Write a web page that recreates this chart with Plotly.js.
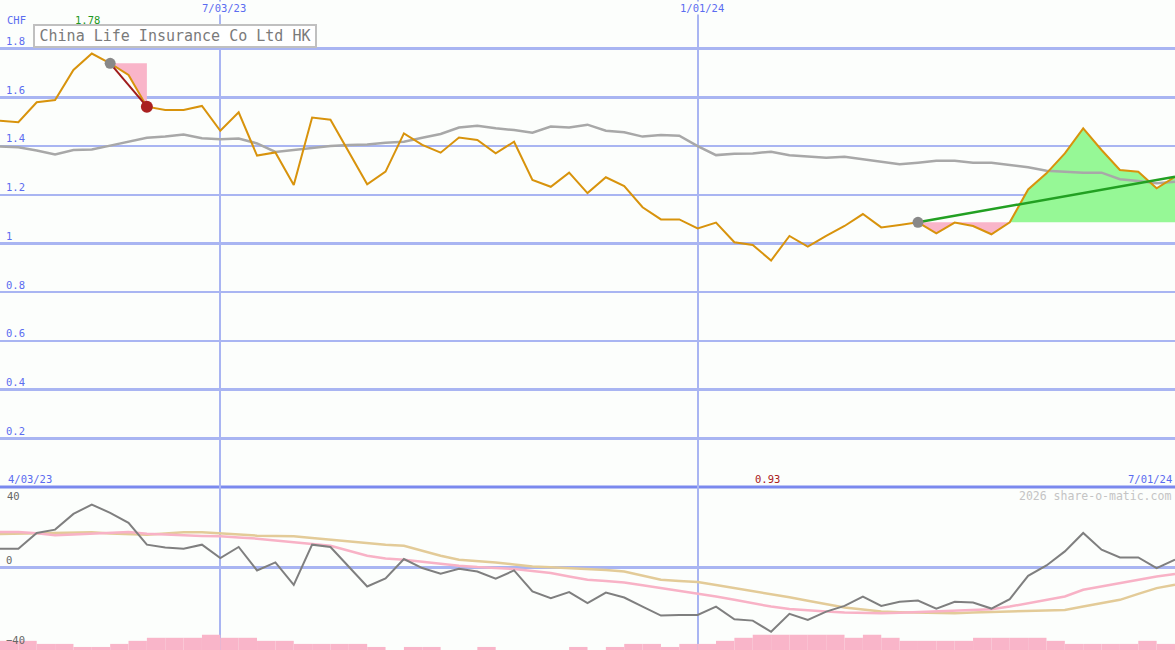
<!DOCTYPE html>
<html>
<head>
<meta charset="utf-8">
<script src="https://cdn.plot.ly/plotly-3.0.1.min.js"></script>
<style>html,body{margin:0;padding:0;background:#fcfefc;}#chart{width:1175px;height:650px;}</style>
</head>
<body>
<div id="chart"></div>
<script>
// ---------------- data ----------------
const chartTitle = 'China Life Insurance Co Ltd HK';
const currency = 'CHF';
const watermark = '2026 share-o-matic.com';
const startLabel = '4/03/23';
const endLabel = '7/01/24';
const gridDates = ['2023-07-03', '2024-01-01'];
const gridLabels = ['7/03/23', '1/01/24'];
const priceTicks = [0.2, 0.4, 0.6, 0.8, 1, 1.2, 1.4, 1.6, 1.8, 2];
const priceTickText = ['0.2', '0.4', '0.6', '0.8', '1', '1.2', '1.4', '1.6', '1.8', ''];
const oscTicks = [0, -40];
const oscTopLabel = 40;

const dates = [
  '2023-04-10','2023-04-17','2023-04-24','2023-05-01','2023-05-08','2023-05-15','2023-05-22','2023-05-29',
  '2023-06-05','2023-06-12','2023-06-19','2023-06-26','2023-07-03','2023-07-10','2023-07-17','2023-07-24',
  '2023-07-31','2023-08-07','2023-08-14','2023-08-21','2023-08-28','2023-09-04','2023-09-11','2023-09-18',
  '2023-09-25','2023-10-02','2023-10-09','2023-10-16','2023-10-23','2023-10-30','2023-11-06','2023-11-13',
  '2023-11-20','2023-11-27','2023-12-04','2023-12-11','2023-12-18','2023-12-25','2024-01-01','2024-01-08',
  '2024-01-15','2024-01-22','2024-01-29','2024-02-05','2024-02-12','2024-02-19','2024-02-26','2024-03-04',
  '2024-03-11','2024-03-18','2024-03-25','2024-04-01','2024-04-08','2024-04-15','2024-04-22','2024-04-29',
  '2024-05-06','2024-05-13','2024-05-20','2024-05-27','2024-06-03','2024-06-10','2024-06-17','2024-06-24',
  '2024-07-01'
];
const price = [
  1.504,1.498,1.580,1.589,1.713,1.780,1.740,1.692,
  1.562,1.548,1.548,1.565,1.463,1.539,1.361,1.374,
  1.240,1.517,1.508,1.376,1.243,1.295,1.452,1.405,
  1.373,1.435,1.425,1.370,1.418,1.261,1.233,1.291,
  1.207,1.272,1.236,1.149,1.099,1.099,1.062,1.086,
  1.005,0.994,0.930,1.031,0.987,1.031,1.072,1.121,
  1.066,1.076,1.087,1.042,1.086,1.072,1.038,1.087,
  1.222,1.288,1.370,1.473,1.384,1.302,1.295,1.227,
  1.274
];
const movingAvg = [
  1.398,1.395,1.382,1.366,1.384,1.386,1.402,1.419,
  1.434,1.439,1.448,1.432,1.428,1.431,1.411,1.376,
  1.384,1.393,1.400,1.405,1.407,1.414,1.418,1.434,
  1.450,1.476,1.484,1.473,1.466,1.455,1.480,1.476,
  1.488,1.463,1.457,1.439,1.446,1.443,1.400,1.363,
  1.369,1.370,1.377,1.362,1.356,1.352,1.356,1.346,
  1.338,1.325,1.332,1.340,1.340,1.332,1.332,1.322,
  1.313,1.299,1.295,1.291,1.291,1.264,1.257,1.247,
  1.254
];
const oscillator = [
  9.25,9.25,17.1,18.75,26.6,31.25,27.1,22.1,
  11.25,9.9,9.25,11.25,4.6,10.1,-1.6,2.4,
  -8.75,11.25,10.1,0.2,-9.6,-5.6,4.1,-0.4,
  -3.25,-0.75,-2.1,-5.75,-1.6,-12.1,-15.4,-12.4,
  -17.9,-12.6,-15.1,-19.6,-24.1,-23.75,-23.75,-19.6,
  -25.9,-26.6,-32.2,-23.25,-26.25,-22.1,-19.25,-14.6,
  -19.25,-17.25,-16.6,-20.6,-17.25,-17.6,-20.6,-15.9,
  -4.25,0.9,7.9,17.1,8.75,4.9,4.9,-0.4,
  3.75
];
const oscPink = [
  17.6,17.6,16.9,15.9,16.3,16.75,16.9,17.6,
  16.75,16.2,15.9,15.6,15.4,14.8,14.25,13.3,
  12.4,11.6,10.75,8.2,5.75,4.4,3.75,2.7,
  1.6,0.8,0.1,-0.4,-0.9,-1.9,-2.9,-4.6,
  -6.25,-6.9,-7.6,-9.0,-10.4,-11.6,-12.9,-14.6,
  -16.25,-17.9,-19.6,-20.8,-21.6,-22.1,-22.6,-22.8,
  -22.9,-22.7,-22.4,-22.1,-21.7,-21.3,-20.9,-19.6,
  -17.9,-16.3,-14.6,-11.25,-9.6,-7.9,-6.4,-4.6,
  -3.4
];
const oscTan = [
  16.6,16.8,17.0,17.2,17.4,17.4,16.8,16.5,
  16.25,16.8,17.4,17.4,16.8,16.2,15.75,15.6,
  15.4,14.6,13.75,13.0,12.4,11.25,10.75,8.25,
  5.75,3.75,3.1,2.4,1.4,0.4,0.0,-0.4,
  -0.75,-1.4,-2.1,-4.2,-6.25,-6.8,-7.4,-8.9,
  -10.4,-11.8,-13.25,-15.0,-16.75,-18.4,-20.1,-21.1,
  -22.1,-22.4,-22.6,-22.8,-22.9,-22.6,-22.3,-22.1,
  -21.8,-21.5,-21.25,-19.6,-17.9,-16.25,-13.3,-10.4,
  -8.75
];
const volume = [
  3,3,2,2,1,1,2,3,
  4,4,4,5,4,4,3,3,
  2,2,2,2,1,0,1,1,
  0,0,1,0,0,0,0,1,
  0,1,2,2,1,2,2,3,
  4,5,5,5,5,5,4,5,
  4,3,3,3,3,4,4,4,
  4,3,2,2,2,2,3,2,
  2
];
// annotated ranges (indices into the arrays above)
const dropStart = 6, dropEnd = 8;
const trendStart = 50, trendCross = 55, trendEnd = 64;

// ---------------- styles ----------------
const BG = '#fcfefc';
const GRID = '#a9b5f2';
const BLUE = '#5b6cf0';
const MONO = 'DejaVu Sans Mono, Liberation Mono, monospace';
const PINK = '#f9b5c9';
const GREEN_FILL = '#96f896';

function sl(a, s, e) { return a.slice(s, e + 1); }
function flat(v, n) { return new Array(n).fill(v); }

const traces = [];
// pink drop fill
const dropLevel = price[dropStart];
traces.push({x: sl(dates, dropStart, dropEnd), y: flat(dropLevel, dropEnd - dropStart + 1), mode: 'lines', line: {width: 0}, hoverinfo: 'skip'});
traces.push({x: sl(dates, dropStart, dropEnd), y: sl(price, dropStart, dropEnd), mode: 'lines', line: {width: 0}, fill: 'tonexty', fillcolor: PINK, hoverinfo: 'skip'});
// trend region fills
const baseLevel = price[trendStart];
traces.push({x: sl(dates, trendStart, trendCross), y: flat(baseLevel, trendCross - trendStart + 1), mode: 'lines', line: {width: 0}, hoverinfo: 'skip'});
traces.push({x: sl(dates, trendStart, trendCross), y: sl(price, trendStart, trendCross).map(v => Math.min(v, baseLevel)), mode: 'lines', line: {width: 0}, fill: 'tonexty', fillcolor: PINK, hoverinfo: 'skip'});
traces.push({x: sl(dates, trendCross, trendEnd), y: flat(baseLevel, trendEnd - trendCross + 1), mode: 'lines', line: {width: 0}, hoverinfo: 'skip'});
traces.push({x: sl(dates, trendCross, trendEnd), y: sl(price, trendCross, trendEnd).map(v => Math.max(v, baseLevel)), mode: 'lines', line: {width: 0}, fill: 'tonexty', fillcolor: GREEN_FILL, hoverinfo: 'skip'});
// moving average
traces.push({x: dates, y: movingAvg, mode: 'lines', line: {color: '#a8a8a8', width: 2.5}});
// price
traces.push({x: dates, y: price, mode: 'lines', line: {color: '#d8930c', width: 2}});
// trend line
traces.push({x: [dates[trendStart], dates[trendEnd]], y: [price[trendStart], price[trendEnd]], mode: 'lines', line: {color: '#22a022', width: 2.5}});
// drop line
traces.push({x: [dates[dropStart], dates[dropEnd]], y: [price[dropStart], price[dropEnd]], mode: 'lines', line: {color: '#a01c1c', width: 2}});
// markers
traces.push({x: [dates[dropStart], dates[trendStart]], y: [price[dropStart], price[trendStart]], mode: 'markers', marker: {color: '#888888', size: 11}});
traces.push({x: [dates[dropEnd]], y: [price[dropEnd]], mode: 'markers', marker: {color: '#aa2020', size: 12}});

// lower panel
traces.push({x: dates, y: volume, type: 'bar', yaxis: 'y3', marker: {color: PINK, line: {width: 0}},
  width: 7 * 86400000, offset: 0, hoverinfo: 'skip'});
traces.push({x: dates, y: oscTan, mode: 'lines', yaxis: 'y2', line: {color: '#e3cb98', width: 2.5, shape: 'linear'}});
traces.push({x: dates, y: oscPink, mode: 'lines', yaxis: 'y2', line: {color: '#f8b2c6', width: 2.5}});
traces.push({x: dates, y: oscillator, mode: 'lines', yaxis: 'y2', line: {color: '#7f7f7f', width: 2}});

const splitFrac = 163 / 650;
function py(px) { return 1 - px / 650; }

let maxIdx = 0, minIdx = 0;
price.forEach((v, i) => { if (v > price[maxIdx]) maxIdx = i; if (v < price[minIdx]) minIdx = i; });

const annotations = [
  {text: chartTitle, xref: 'paper', yref: 'paper', x: 33 / 1175, y: py(24), xanchor: 'left', yanchor: 'top',
   showarrow: false, font: {family: MONO, size: 15, color: '#7a7a7a'}, bgcolor: '#ffffff',
   bordercolor: '#c0c0c0', borderwidth: 2, borderpad: 2, width: 276, height: 16},
  {text: currency, xref: 'paper', yref: 'paper', x: 5 / 1175, y: py(20), xanchor: 'left', yanchor: 'middle',
   showarrow: false, font: {family: MONO, size: 10.5, color: BLUE}},
  {text: price[maxIdx].toFixed(2), xref: 'x', yref: 'paper', x: dates[maxIdx], y: py(20), xanchor: 'center', yanchor: 'middle',
   xshift: -4, showarrow: false, font: {family: MONO, size: 10.5, color: '#229922'}},
  {text: price[minIdx].toFixed(2), xref: 'x', yref: 'paper', x: dates[minIdx], y: py(479), xanchor: 'center', yanchor: 'middle',
   xshift: -4, showarrow: false, font: {family: MONO, size: 10.5, color: '#aa2020'}},
  {text: startLabel, xref: 'paper', yref: 'paper', x: 6 / 1175, y: py(479), xanchor: 'left', yanchor: 'middle',
   showarrow: false, font: {family: MONO, size: 10.5, color: BLUE}},
  {text: endLabel, xref: 'paper', yref: 'paper', x: 1, y: py(479), xanchor: 'right', yanchor: 'middle', xshift: -1,
   showarrow: false, font: {family: MONO, size: 10.5, color: BLUE}},
  {text: watermark, xref: 'paper', yref: 'paper', x: 1, y: py(496), xanchor: 'right', yanchor: 'middle', xshift: -2,
   showarrow: false, font: {family: MONO, size: 11.5, color: '#c4c4c4'}},
  {text: String(oscTopLabel), xref: 'paper', yref: 'paper', x: 5 / 1175, y: py(496), xanchor: 'left', yanchor: 'middle',
   showarrow: false, font: {family: MONO, size: 10.5, color: '#666666'}}
];
gridDates.forEach((d, i) => annotations.push({text: gridLabels[i], xref: 'x', yref: 'paper', x: d, y: py(8),
  xanchor: 'center', yanchor: 'middle', xshift: 4, showarrow: false, bgcolor: BG, borderpad: 0,
  font: {family: MONO, size: 10.5, color: BLUE}}));

const layout = {
  width: 1175, height: 650,
  margin: {l: 0, r: 0, t: 0, b: 0},
  paper_bgcolor: BG, plot_bgcolor: BG,
  showlegend: false,
  hovermode: false,
  xaxis: {type: 'date', range: ['2023-04-10', '2024-07-01'], tickvals: gridDates, showticklabels: false,
    showgrid: true, gridcolor: GRID, gridwidth: 2, zeroline: false, showline: false, ticks: '', anchor: 'y2'},
  yaxis: {domain: [splitFrac, 1], range: [0, 2], tickvals: priceTicks, ticktext: priceTickText,
    ticklabelposition: 'inside top', ticklabelstandoff: 3, showgrid: true, gridcolor: GRID, gridwidth: 2.5, zeroline: false,
    showline: false, ticks: '', tickfont: {family: MONO, size: 10.5, color: BLUE}},
  yaxis2: {domain: [0, splitFrac], range: [-41.25, 40], tickvals: oscTicks, ticklabelposition: 'inside top',
    ticklabelstandoff: 3, showgrid: false, zeroline: true, zerolinecolor: GRID, zerolinewidth: 2.5, showline: false, ticks: '',
    tickfont: {family: MONO, size: 10.5, color: '#666666'}},
  yaxis3: {domain: [0, splitFrac], overlaying: 'y2', range: [0, 53.4], visible: false, showgrid: false, zeroline: false},
  shapes: [
    {type: 'line', xref: 'paper', yref: 'paper', x0: 0, x1: 1, y0: splitFrac, y1: splitFrac,
     line: {color: '#7a89ee', width: 3}, layer: 'below'}
  ],
  annotations: annotations
};

Plotly.newPlot('chart', traces, layout, {displayModeBar: false, staticPlot: true});
</script>
</body>
</html>
